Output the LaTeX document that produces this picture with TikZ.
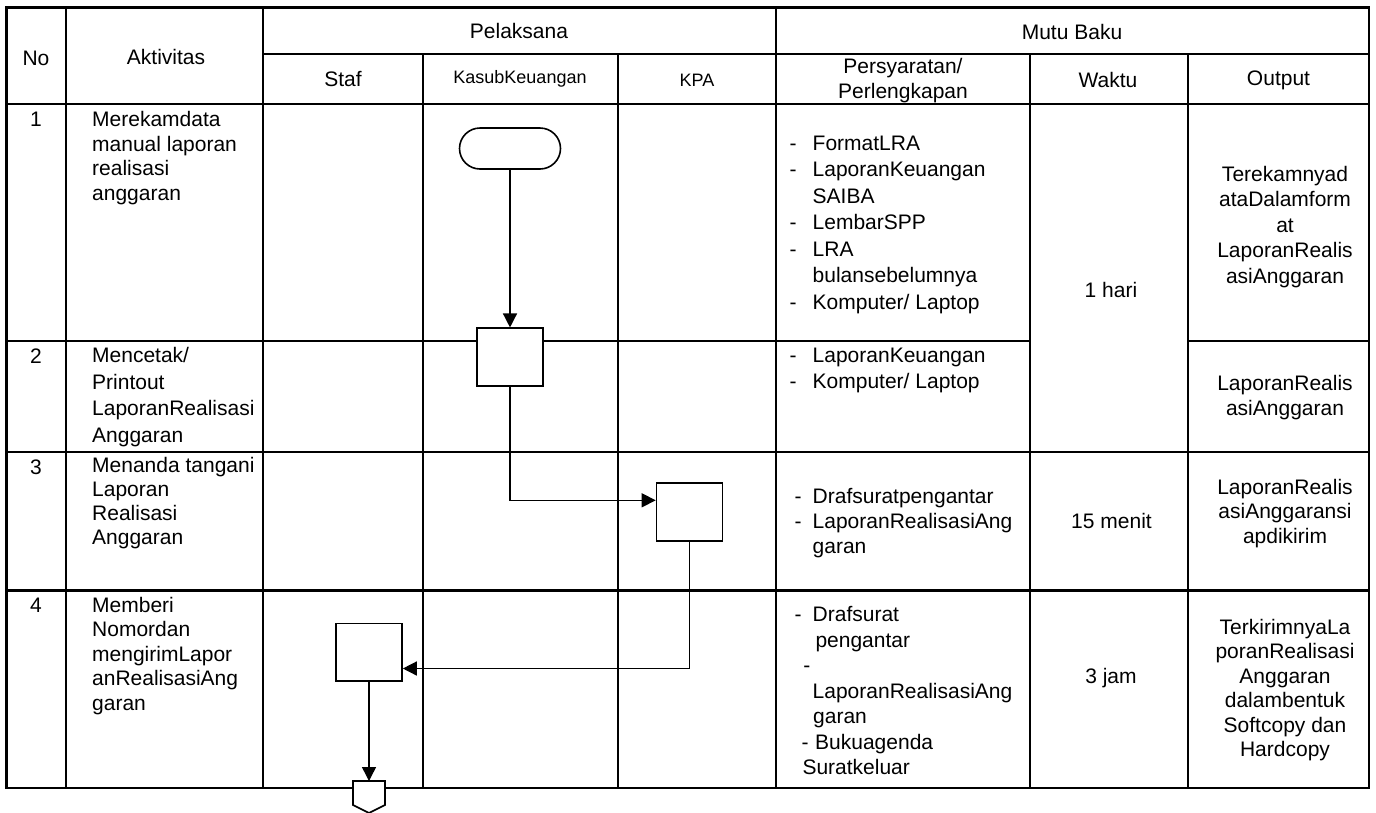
\documentclass[tikz,border=0pt]{standalone}
\usepackage{fontspec}
\setmainfont{Liberation Sans}
\usetikzlibrary{arrows.meta}
\begin{document}
\begin{tikzpicture}[x=1pt,y=-1pt,
  grid/.style={line width=2.2pt},
  tx/.style={inner sep=0pt, font=\fontsize{21}{24.5}\selectfont},
  sm/.style={inner sep=0pt, font=\fontsize{18}{21}\selectfont},
  proc/.style={draw, fill=white, line width=1.6pt, minimum width=66pt, minimum height=57.5pt, inner sep=0pt},
  term/.style={draw, fill=white, line width=1.6pt, minimum width=101pt, minimum height=41pt, rounded corners=20.5pt, inner sep=0pt},
  arr/.style={line width=1.4pt, -{Triangle[length=14pt,width=14pt]}},
  opcstyle/.style={draw, fill=white, line width=1.6pt}
]
\useasboundingbox (0,0) rectangle (1376,812);
% ---------- table ----------
\draw[grid] (6.5,7.5) rectangle (1369,787.7);
\draw[grid] (66,7.5) -- (66,787.7);
\draw[grid] (263,7.5) -- (263,787.7);
\draw[grid] (423,54) -- (423,787.7);
\draw[grid] (618,54) -- (618,787.7);
\draw[grid] (776,7.5) -- (776,787.7);
\draw[grid] (1030,54) -- (1030,787.7);
\draw[grid] (1188,54) -- (1188,787.7);
\draw[grid] (263,54) -- (1369,54);
\draw[grid] (6.5,104.3) -- (1369,104.3);
\draw[grid] (6.5,340.7) -- (1030,340.7);
\draw[grid] (1188,340.7) -- (1369,340.7);
\draw[grid] (6.5,451.7) -- (1369,451.7);
\draw[grid] (6.5,590.5) -- (1369,590.5);
% ---------- header ----------
\node[tx] (hno) at (36,58) {No};
\node[tx] (hakt) at (166,57) {Aktivitas};
\node[tx] (hpel) at (519,31) {Pelaksana};
\node[tx] (hmutu) at (1072,32) {Mutu Baku};
\node[tx] (hstaf) at (343,79) {Staf};
\node[sm] (hkasub) at (520,79) {KasubKeuangan};
\node[sm] (hkpa) at (697,80) {KPA};
\node[tx, align=center, font=\fontsize{21}{25}\selectfont] (hper) at (903,80.5) {Persyaratan/\\Perlengkapan};
\node[tx] (hwak) at (1108,80) {Waktu};
\node[tx] (hout) at (1278.5,80) {Output};
% ---------- numbers ----------
\node[tx] (n1) at (36,119) {1};
\node[tx] (n2) at (36,356) {2};
\node[tx] (n3) at (36,467) {3};
\node[tx] (n4) at (36,605) {4};
% ---------- activities ----------
\node[tx, align=left, anchor=west, font=\fontsize{21}{24.7}\selectfont] (a1) at (92,158) {Merekamdata\\manual laporan\\realisasi\\anggaran};
\node[tx, align=left, anchor=west, font=\fontsize{21}{26.5}\selectfont] (a2) at (92,397) {Mencetak/\\Printout\\LaporanRealisasi\\Anggaran};
\node[tx, align=left, anchor=west, font=\fontsize{21}{24}\selectfont] (a3) at (92,503) {Menanda tangani\\Laporan\\Realisasi\\Anggaran};
\node[tx, align=left, anchor=west, font=\fontsize{21}{24.5}\selectfont] (a4) at (92,656) {Memberi\\Nomordan\\mengirimLapor\\anRealisasiAng\\garan};
% ---------- persyaratan ----------
\node[tx, align=left, anchor=west, font=\fontsize{21}{26.5}\selectfont] (p1) at (789.5,224.5) {\makebox[23pt][l]{-}FormatLRA\\\makebox[23pt][l]{-}LaporanKeuangan\\\hspace*{23pt}SAIBA\\\makebox[23pt][l]{-}LembarSPP\\\makebox[23pt][l]{-}LRA\\\hspace*{23pt}bulansebelumnya\\\makebox[23pt][l]{-}Komputer/ Laptop};
\node[tx, align=left, anchor=west, font=\fontsize{21}{26}\selectfont] (p2) at (789.5,370) {\makebox[23pt][l]{-}LaporanKeuangan\\\makebox[23pt][l]{-}Komputer/ Laptop};
\node[tx, align=left, anchor=west, font=\fontsize{21}{25}\selectfont] (p3) at (794.5,523) {\makebox[18pt][l]{-}Drafsuratpengantar\\\makebox[18pt][l]{-}LaporanRealisasiAng\\\hspace*{18pt}garan};
\node[tx, align=left, anchor=west, font=\fontsize{21}{25.5}\selectfont] (p4) at (789.5,690.5) {\hspace*{5pt}\makebox[18pt][l]{-}Drafsurat\\\hspace*{25.8pt}pengantar\\\hspace*{13.7pt}-\\\hspace*{23pt}LaporanRealisasiAng\\\hspace*{23.5pt}garan\\\hspace*{12pt}\makebox[13.5pt][l]{-}Bukuagenda\\\hspace*{12.8pt}Suratkeluar};
% ---------- waktu ----------
\node[tx] (w1) at (1111,290) {1 hari};
\node[tx] (w3) at (1111.5,521) {15 menit};
\node[tx] (w4) at (1111,678) {3 jam};
% ---------- output ----------
\node[tx, align=center, font=\fontsize{21}{25.5}\selectfont] (o1) at (1285,227) {Terekamnyad\\ataDalamform\\at\\LaporanRealis\\asiAnggaran};
\node[tx, align=center, font=\fontsize{21}{25}\selectfont] (o2) at (1285,397.5) {LaporanRealis\\asiAnggaran};
\node[tx, align=center, font=\fontsize{21}{24.3}\selectfont] (o3) at (1285,513.5) {LaporanRealis\\asiAnggaransi\\apdikirim};
\node[tx, align=center, font=\fontsize{21}{24.4}\selectfont] (o4) at (1285,690) {TerkirimnyaLa\\poranRealisasi\\Anggaran\\dalambentuk\\Softcopy dan\\Hardcopy};
% ---------- flow shapes ----------
\node[term] (t1) at (510,148.5) {};
\node[proc] (b2) at (510,357) {};
\node[proc] (b3) at (689.5,512) {};
\node[proc] (b4) at (369,652.3) {};
\draw[opcstyle] (353,781) -- (385,781) -- (385,805) -- (369,813) -- (353,805) -- cycle;
\coordinate (opc) at (369,781);
% ---------- connectors ----------
\draw[arr] (t1.south) -- (b2.north);
\draw[arr] (b2.south) |- ([yshift=11.7pt]b3.west);
\draw[arr] (b3.south) |- ([yshift=-16.2pt]b4.east);
\draw[arr] (b4.south) -- (opc);
\end{tikzpicture}
\end{document}
